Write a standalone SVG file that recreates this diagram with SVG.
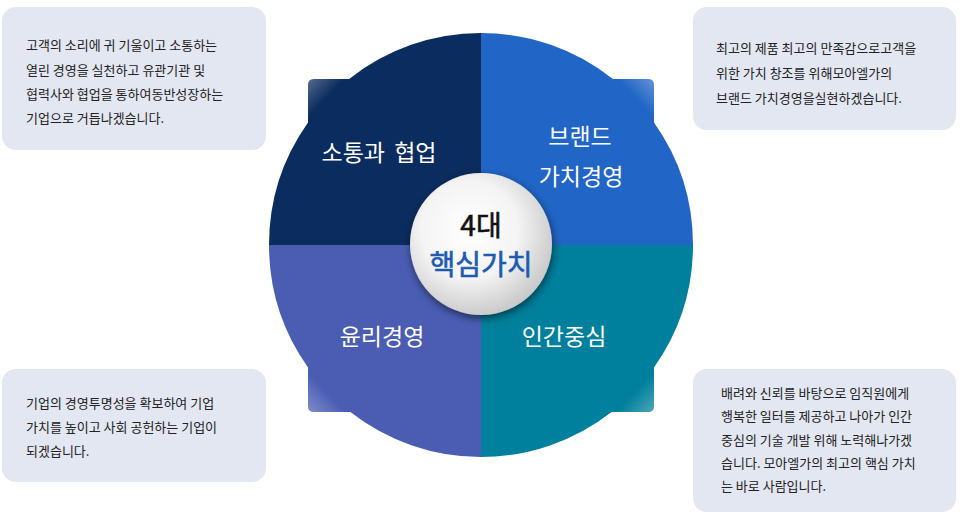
<svg xmlns="http://www.w3.org/2000/svg" width="960" height="520" viewBox="0 0 960 520">
<defs>
<style>
.box{fill:#e3e7f1}
.body{font-family:"Noto Sans CJK KR","Noto Sans",sans-serif;font-size:13px;fill:#222}
.qt{font-family:"Noto Sans CJK KR","Noto Sans",sans-serif;font-size:23px;fill:#fff;text-anchor:middle}
.ct{font-family:"Noto Sans CJK KR","Noto Sans",sans-serif;font-size:28px;text-anchor:middle;stroke-width:0.6}
.hl{stroke:none}
</style>
<radialGradient id="cg" cx="0.42" cy="0.4" r="0.62">
<stop offset="0" stop-color="#ffffff"/>
<stop offset="0.55" stop-color="#f4f4f4"/>
<stop offset="1" stop-color="#c9c9c9"/>
</radialGradient>
<linearGradient id="gTL" x1="0" y1="0" x2="1" y2="1">
<stop offset="0" stop-color="#fff" stop-opacity="0.3"/>
<stop offset="0.45" stop-color="#fff" stop-opacity="0"/>
</linearGradient>
<linearGradient id="gTR" x1="1" y1="0" x2="0" y2="1">
<stop offset="0" stop-color="#fff" stop-opacity="0.3"/>
<stop offset="0.45" stop-color="#fff" stop-opacity="0"/>
</linearGradient>
<linearGradient id="gBL" x1="0" y1="1" x2="1" y2="0">
<stop offset="0" stop-color="#fff" stop-opacity="0.3"/>
<stop offset="0.45" stop-color="#fff" stop-opacity="0"/>
</linearGradient>
<linearGradient id="gBR" x1="1" y1="1" x2="0" y2="0">
<stop offset="0" stop-color="#fff" stop-opacity="0.3"/>
<stop offset="0.45" stop-color="#fff" stop-opacity="0"/>
</linearGradient>
<filter id="sh" x="-30%" y="-30%" width="160%" height="160%">
<feDropShadow dx="1" dy="3" stdDeviation="4" flood-color="#000" flood-opacity="0.55"/>
</filter>
</defs>
<rect width="960" height="520" fill="#fff"/>

<g id="connectors"/>

<g id="q-communication">
<path d="M481,245 H269 A212,212 0 0 1 308,122.5 V85 Q308,79 314,79 H349.1 A212,212 0 0 1 481,33 Z" fill="#0b2c5e"/>
<path class="hl" d="M308,122.5 V85 Q308,79 314,79 H349.1 A212,212 0 0 0 308,122.5 Z" fill="url(#gTL)"/>
<text class="qt" x="379" y="161" word-spacing="4">소통과 협업</text>
</g>

<g id="q-brand">
<path d="M481,245 V33 A212,212 0 0 1 612.9,79 H648 Q654,79 654,85 V122.5 A212,212 0 0 1 693,245 Z" fill="#2165c6"/>
<path class="hl" d="M612.9,79 H648 Q654,79 654,85 V122.5 A212,212 0 0 0 612.9,79 Z" fill="url(#gTR)"/>
<text class="qt" x="580" y="145">브랜드</text>
<text class="qt" x="581" y="185">가치경영</text>
</g>

<g id="q-people">
<path d="M481,245 H693 A212,212 0 0 1 654,367.5 V406 Q654,412 648,412 H611.6 A212,212 0 0 1 481,457 Z" fill="#00809c"/>
<path class="hl" d="M654,367.5 V406 Q654,412 648,412 H611.6 A212,212 0 0 0 654,367.5 Z" fill="url(#gBR)"/>
<text class="qt" x="564" y="345">인간중심</text>
</g>

<g id="q-ethics">
<path d="M481,245 V457 A212,212 0 0 1 350.4,412 H314 Q308,412 308,406 V367.5 A212,212 0 0 1 269,245 Z" fill="#4a5db3"/>
<path class="hl" d="M350.4,412 H314 Q308,412 308,406 V367.5 A212,212 0 0 0 350.4,412 Z" fill="url(#gBL)"/>
<text class="qt" x="382" y="345">윤리경영</text>
</g>

<g id="center">
<circle cx="481" cy="244" r="71" fill="url(#cg)" filter="url(#sh)"/>
<text class="ct" x="481" y="236" fill="#111" stroke="#111">4대</text>
<text class="ct" x="481" y="275" fill="#1b5bb0" stroke="#1b5bb0">핵심가치</text>
</g>

<g id="box-communication">
<rect class="box" x="2" y="7" width="264" height="143" rx="14"/>
<text class="body" x="26" y="50">고객의 소리에 귀 기울이고 소통하는</text>
<text class="body" x="26" y="74.5">열린 경영을 실천하고 유관기관 및</text>
<text class="body" x="26" y="99">협력사와 협업을 통하여동반성장하는</text>
<text class="body" x="26" y="123">기업으로 거듭나겠습니다.</text>
</g>

<g id="box-brand">
<rect class="box" x="693" y="7" width="263" height="123" rx="14"/>
<text class="body" x="716" y="53">최고의 제품 최고의 만족감으로고객을</text>
<text class="body" x="716" y="78">위한 가치 창조를 위해모아엘가의</text>
<text class="body" x="716" y="103">브랜드 가치경영을실현하겠습니다.</text>
</g>

<g id="box-ethics">
<rect class="box" x="2" y="369" width="264" height="113" rx="14"/>
<text class="body" x="26" y="407.5">기업의 경영투명성을 확보하여 기업</text>
<text class="body" x="26" y="432">가치를 높이고 사회 공헌하는 기업이</text>
<text class="body" x="26" y="456">되겠습니다.</text>
</g>

<g id="box-people">
<rect class="box" x="693" y="369" width="263" height="143" rx="14"/>
<text class="body" x="721" y="397.5">배려와 신뢰를 바탕으로 임직원에게</text>
<text class="body" x="721" y="421">행복한 일터를 제공하고 나아가 인간</text>
<text class="body" x="721" y="444.5">중심의 기술 개발 위해 노력해나가겠</text>
<text class="body" x="721" y="467.5">습니다. 모아엘가의 최고의 핵심 가치</text>
<text class="body" x="721" y="491">는 바로 사람입니다.</text>
</g>
</svg>
